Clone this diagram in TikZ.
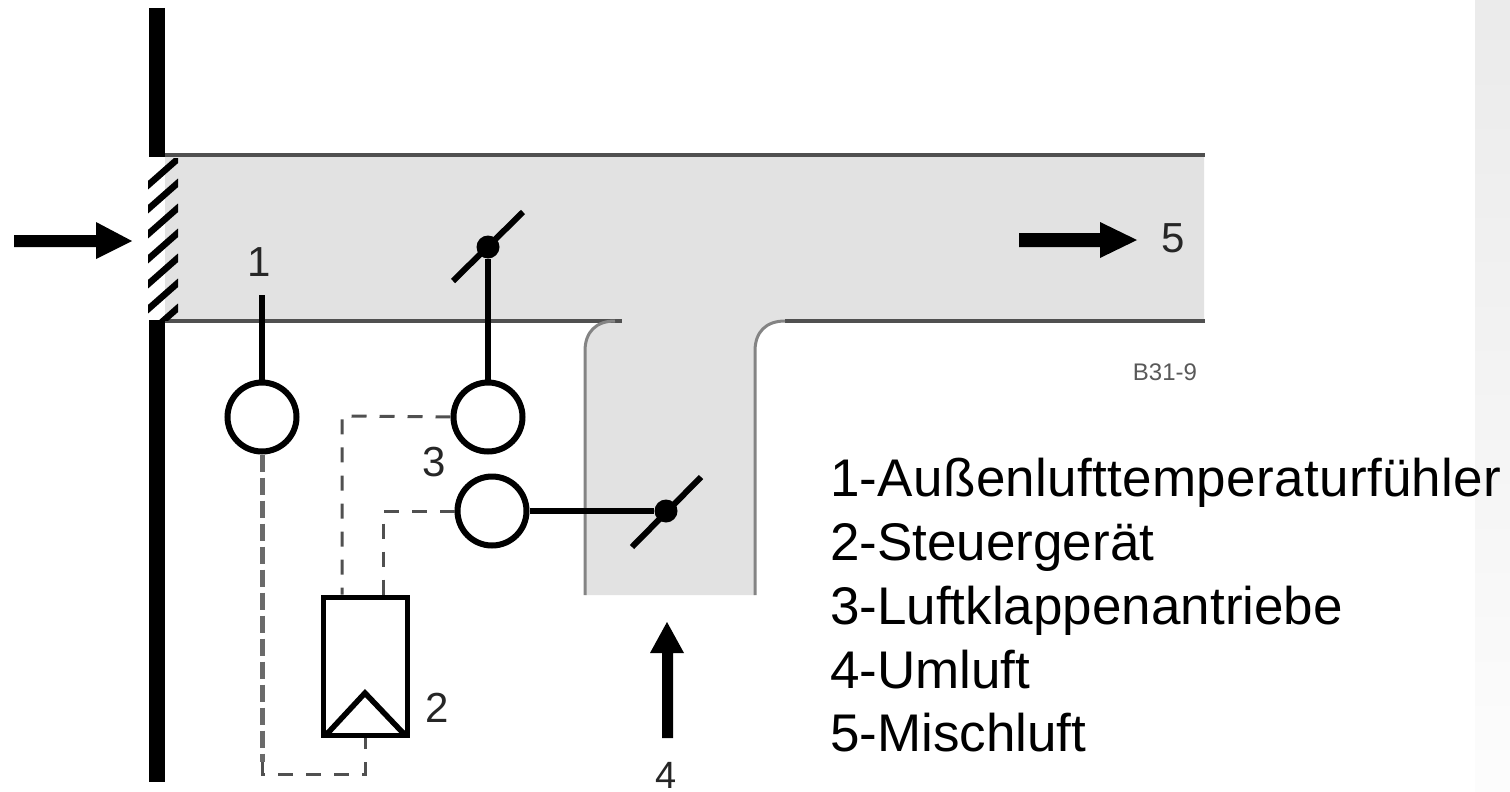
\documentclass[tikz,border=0pt]{standalone}
\usepackage{fontspec}
\setmainfont{Liberation Sans}
\definecolor{ductfill}{HTML}{E2E2E2}
\definecolor{ductline}{HTML}{505050}
\tikzset{
  wallbar/.style={line width=16pt,black},
  ductedge/.style={line width=3.5pt,ductline},
  ductside/.style={line width=3pt,draw=ductline!70},
  hatchline/.style={line width=6.5pt,black},
  rod/.style={line width=6pt,black},
  flap/.style={line width=6pt,black},
  pivot/.style={circle,fill=black,inner sep=0pt,minimum size=23pt},
  actuator/.style={circle,draw=black,fill=white,line width=6pt,inner sep=0pt,minimum size=69pt},
  signal/.style={line width=3pt,ductline,dash pattern=on 15pt off 13pt},
  signalthick/.style={line width=5pt,ductline!85,dash pattern=on 17pt off 6pt},
  blockarrow/.style={fill=black,draw=none},
  numlabel/.style={font=\fontsize{42pt}{42pt}\selectfont,inner sep=0pt,text=black!85},
  legend/.style={font=\fontsize{53pt}{63.8pt}\selectfont,align=left,anchor=north west,inner sep=0pt,text=black}
}
\begin{document}
\begin{tikzpicture}[x=1pt,y=-1pt]
\useasboundingbox (0,0) rectangle (1510,792);
\shade[top color=black!8,bottom color=black!1] (1475,0) rectangle (1510,792);
% duct
\fill[ductfill] (165,155) -- (1204,155) -- (1204,321) -- (785,321)
  .. controls (766,321) and (755,332) .. (755,351) -- (755,595) -- (585,595) -- (585,351)
  .. controls (585,332) and (596,321) .. (615,321) -- (165,321) -- cycle;
\draw[ductedge] (165,155) -- (1205,155);
\draw[ductedge] (165,321) -- (622,321);
\draw[ductedge] (785,321) -- (1205,321);
\draw[ductside] (755,595) -- (755,351) .. controls (755,332) and (766,321) .. (785,321);
\draw[ductside] (585,595) -- (585,351) .. controls (585,332) and (596,321) .. (615,321);
% wall
\draw[wallbar] (157,8) -- (157,157);
\draw[wallbar] (157,320) -- (157,782);
% hatch
\fill[white] (148,158) rectangle (165,320);
\begin{scope}
\clip (148,158) rectangle (178,320);
\foreach \yy in {160,184,209,234,259,284,309}
  \draw[hatchline] (146,\yy+27) -- (180,\yy-3);
\end{scope}
% arrows
\fill[blockarrow] (14,235) -- (96,235) -- (96,222) -- (132,241) -- (96,259) -- (96,247) -- (14,247) -- cycle;
\fill[blockarrow] (1019,233) -- (1100,233) -- (1100,222) -- (1137,240) -- (1100,258) -- (1100,247) -- (1019,247) -- cycle;
\fill[blockarrow] (662,738) -- (662,653) -- (650,653) -- (667,622) -- (684,653) -- (673,653) -- (673,738) -- cycle;
% actuators
\node[actuator] (s1) at (262,417) {};
\node[actuator] (a1) at (488,417) {};
\node[actuator] (a2) at (492,511) {};
\node[pivot] (p1) at (488,247) {};
\node[pivot] (p2) at (666,511) {};
\coordinate (s1top) at (262,295);
\draw[rod] (s1top) -- (s1.north);
\draw[rod] (p1) -- (a1.north);
\draw[rod] (a2.east) -- (p2);
\coordinate (f1a) at (453,281);
\coordinate (f1b) at (523,212);
\coordinate (f2a) at (632,547);
\coordinate (f2b) at (701,477);
\draw[flap] (f1a) -- (f1b);
\draw[flap] (f2a) -- (f2b);
% controller
\node[draw=black,fill=white,line width=5pt,minimum width=84pt,minimum height=138pt,inner sep=0pt] (ctl) at (365.5,666) {};
\coordinate (tl) at (326,735);
\coordinate (tt) at (365,693);
\coordinate (tr) at (405,735);
\draw[line width=5.5pt,black,line join=miter] (tl) -- (tt) -- (tr);
\fill[black] (323,735) -- (331,735) -- (323,727) -- cycle;
\fill[black] (408,735) -- (400,735) -- (408,727) -- cycle;
% signals
\coordinate (c1) at (342,416);
\coordinate (c2) at (383,511);
\coordinate (c3) at (262,774);
\coordinate (c4) at (365,774);
\draw[signal] (a1.west) -- (c1) -- (c1 |- ctl.north);
\draw[signal] (a2.west) -- (c2) -- (c2 |- ctl.north);
\draw[signalthick] (s1.south) -- (262,762);
\draw[signal] (262,762) -- (c3) -- (c4) -- (c4 |- ctl.south);
% labels
\node[numlabel] (n1) at (259,262) {1};
\node[numlabel] (n2) at (437,708) {2};
\node[numlabel] (n3) at (434,462) {3};
\node[numlabel,font=\fontsize{38pt}{38pt}\selectfont] (n4) at (666,775) {4};
\node[numlabel] (n5) at (1173,238) {5};
\node[font=\fontsize{24pt}{24pt}\selectfont,text=black!65,inner sep=0pt] (code) at (1165,372) {B31-9};
\node[legend] (leg) at (830,458) {{\addfontfeature{LetterSpace=0.6}1-Außenlufttemperaturfühler}\\2-Steuergerät\\3-Luftklappenantriebe\\4-Umluft\\5-Mischluft};
\end{tikzpicture}
\end{document}
